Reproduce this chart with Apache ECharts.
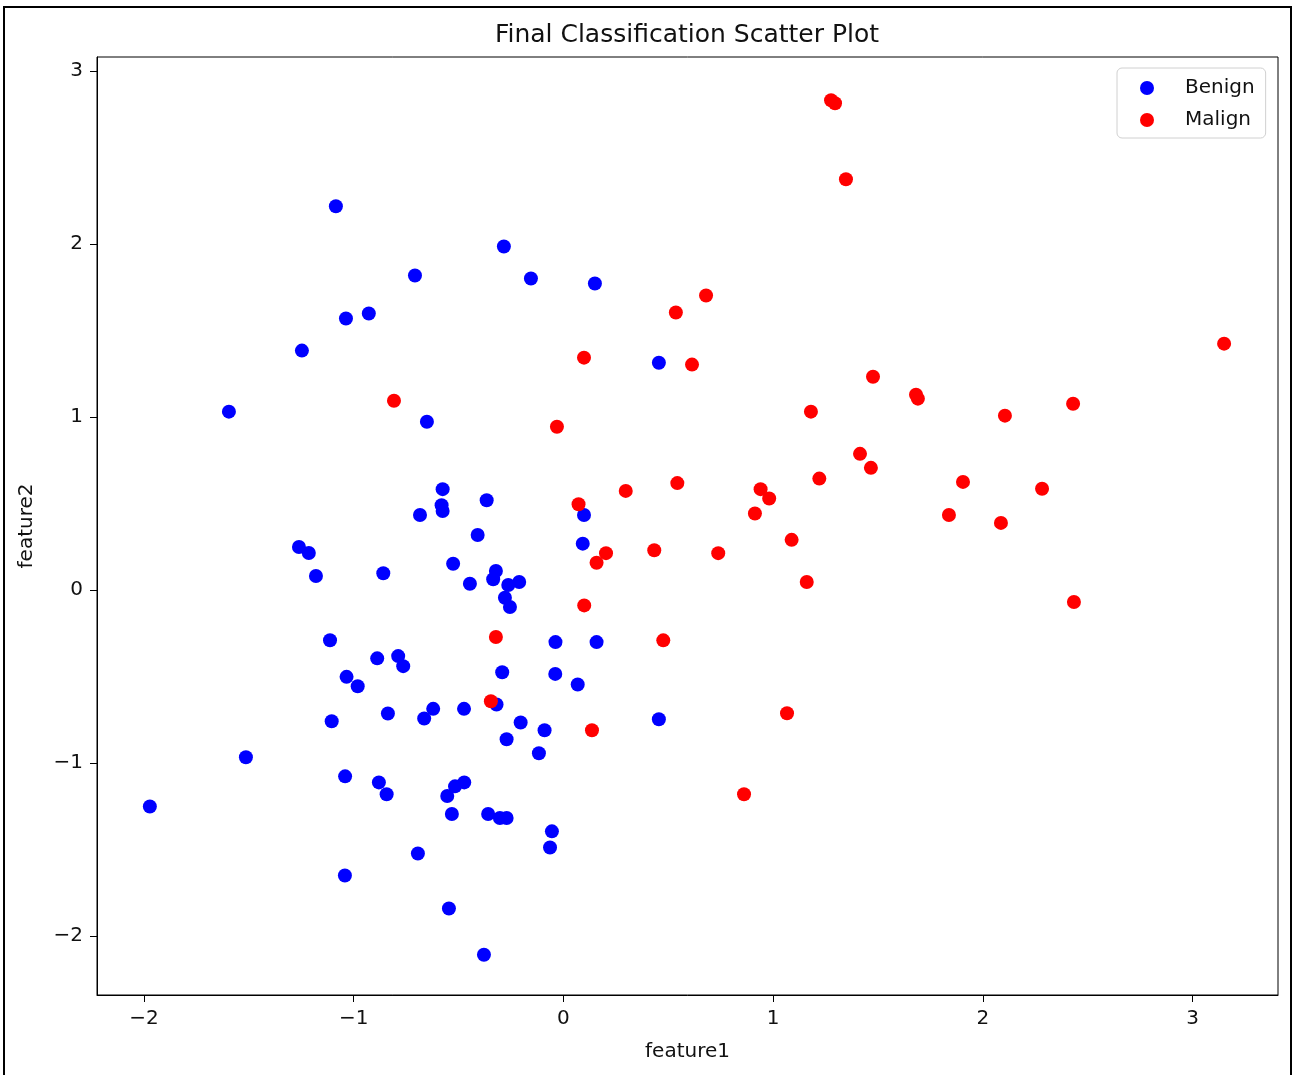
<!DOCTYPE html>
<html>
<head>
<meta charset="utf-8">
<script src="https://cdn.jsdelivr.net/npm/echarts@6/dist/echarts.min.js"></script>
<style>
  html, body { margin: 0; padding: 0; background: #fff; }
  #chart { width: 1296px; height: 1075px; }
</style>
</head>
<body>
<div id="chart"></div>
<script>
const seriesNames = ['Benign', 'Malign']
const xTicks = [-2, -1, 0, 1, 2, 3]
const yTicks = [-2, -1, 0, 1, 2, 3]

const benignX = [-1.085, -0.284, -0.155, 0.150, -0.708, -0.928, -1.037, -1.247, 0.455, -1.595,
  -0.651, -0.576, -0.366, -0.581, -0.576, -0.684, 0.098, -0.409, 0.092, -1.261,
  -1.214, -0.526, -1.180, -0.859, -0.322, -0.335, -0.446, -0.263, -0.211, -0.279,
  -0.255, -1.113, -0.038, 0.158, -0.888, -0.788, -0.764, -1.034, -0.981, -0.292,
  -0.039, 0.068, -0.319, -1.105, -0.837, -0.621, -0.664, -0.474, -0.204, -0.090,
  0.455, -0.271, -0.117, -1.514, -1.041, -0.880, -0.843, -0.473, -0.517, -0.554,
  -1.972, -0.532, -0.359, -0.303, -0.271, -0.055, -0.064, -0.694, -1.042, -0.546,
  -0.379]
const benignY = [2.218, 1.986, 1.801, 1.772, 1.818, 1.598, 1.569, 1.384, 1.314, 1.031,
  0.973, 0.583, 0.519, 0.490, 0.457, 0.434, 0.434, 0.318, 0.268, 0.249,
  0.214, 0.152, 0.081, 0.097, 0.110, 0.062, 0.036, 0.029, 0.046, -0.045,
  -0.098, -0.290, -0.301, -0.301, -0.395, -0.382, -0.440, -0.502, -0.556, -0.475,
  -0.485, -0.546, -0.662, -0.759, -0.714, -0.687, -0.743, -0.687, -0.766, -0.811,
  -0.747, -0.863, -0.944, -0.967, -1.077, -1.112, -1.181, -1.112, -1.135, -1.191,
  -1.251, -1.295, -1.295, -1.318, -1.318, -1.395, -1.488, -1.523, -1.650, -1.841,
  -2.108]

const malignX = [1.276, 1.295, 1.347, 0.680, 0.536, 0.613, 0.098, 3.150, 1.476, 1.681,
  1.690, -0.808, 2.105, 2.430, 1.180, -0.031, 1.414, 1.466, 1.220, 1.905,
  0.543, 0.297, 0.940, 0.981, 2.282, 0.072, 0.913, 1.838, 2.086, 1.088,
  0.433, 0.203, 0.158, 0.738, 1.160, 2.434, 0.099, -0.322, 0.476, -0.346,
  1.066, 0.136, 0.861]
const malignY = [2.831, 2.814, 2.374, 1.702, 1.604, 1.303, 1.343, 1.424, 1.233, 1.129,
  1.106, 1.094, 1.008, 1.077, 1.031, 0.944, 0.787, 0.706, 0.644, 0.625,
  0.618, 0.573, 0.583, 0.529, 0.585, 0.496, 0.442, 0.434, 0.388, 0.290,
  0.230, 0.213, 0.158, 0.213, 0.046, -0.069, -0.089, -0.272, -0.291, -0.643,
  -0.712, -0.811, -1.181]

const font = 'DejaVu Sans'
const textColor = '#111'
const minus = v => String(v).replace('-', '\u2212')
const zip = (xs, ys) => xs.map((x, i) => [x, ys[i]])

const chart = echarts.init(document.getElementById('chart'), null, { renderer: 'canvas' })

const axisCommon = {
  type: 'value',
  splitLine: { show: false },
  axisLine: { show: true, onZero: false, lineStyle: { color: '#000', width: 1 } },
  axisTick: { show: true, inside: false, length: 7, lineStyle: { color: '#000', width: 1 } },
  axisLabel: { color: textColor, fontSize: 20, fontFamily: font, margin: 14, formatter: minus },
  nameLocation: 'middle',
  nameTextStyle: { color: textColor, fontSize: 20, fontFamily: font },
}

chart.setOption({
  animation: false,
  backgroundColor: '#fff',
  title: {
    text: 'Final Classification Scatter Plot',
    left: 687, top: 23, padding: 0, textAlign: 'center',
    textStyle: { color: textColor, fontSize: 25, fontWeight: 'normal', fontFamily: font },
  },
  grid: { left: 97, top: 57, right: 18, bottom: 80, show: true, borderColor: '#000', borderWidth: 1, backgroundColor: 'transparent' },
  legend: {
    orient: 'vertical',
    left: 1117, top: 68,
    padding: [10, 11, 8, 23],
    itemGap: 12,
    itemWidth: 14, itemHeight: 14,
    icon: 'circle',
    borderColor: '#d0d0d0', borderWidth: 1, borderRadius: 5,
    textStyle: { color: textColor, fontSize: 20, fontFamily: font, lineHeight: 20, padding: [0, 0, 0, 26] },
    data: seriesNames,
  },
  xAxis: {
    ...axisCommon,
    min: -2.224, max: 3.407,
    name: 'feature1', nameGap: 47,
    axisTick: { ...axisCommon.axisTick, customValues: xTicks },
    axisLabel: { ...axisCommon.axisLabel, customValues: xTicks },
  },
  yAxis: {
    ...axisCommon,
    min: -2.341, max: 3.081,
    name: 'feature2', nameGap: 60,
    axisTick: { ...axisCommon.axisTick, customValues: yTicks },
    axisLabel: { ...axisCommon.axisLabel, customValues: yTicks },
  },
  series: [
    { name: seriesNames[0], type: 'scatter', symbol: 'circle', symbolSize: 14, itemStyle: { color: '#0000ff', opacity: 1 }, data: zip(benignX, benignY) },
    { name: seriesNames[1], type: 'scatter', symbol: 'circle', symbolSize: 14, itemStyle: { color: '#ff0000', opacity: 1 }, data: zip(malignX, malignY) },
  ],
  graphic: [
    { type: 'rect', silent: true, z: 100, shape: { x: 4, y: 7, width: 1287, height: 1100 }, style: { fill: 'none', stroke: '#000', lineWidth: 2 } },
  ],
})
</script>
</body>
</html>
